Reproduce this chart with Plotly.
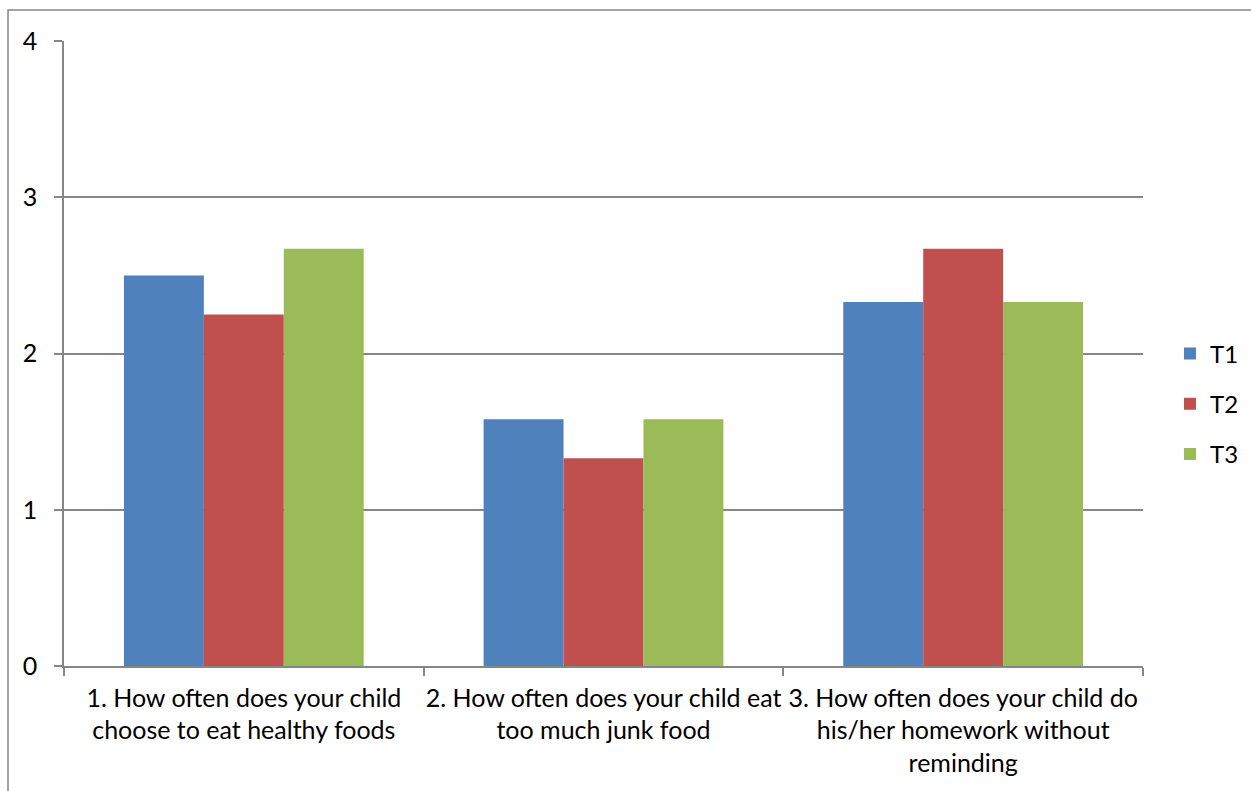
import plotly.graph_objects as go

categories = [
    "1. How often does your child<br>choose to eat healthy foods",
    "2. How often does your child eat<br>too much junk food",
    "3. How often does your child do<br>his/her homework without<br>reminding",
]
series_names = ["T1", "T2", "T3"]
t1_values = [2.5, 1.58, 2.33]
t2_values = [2.25, 1.33, 2.67]
t3_values = [2.67, 1.58, 2.33]
y_ticks = [0, 1, 2, 3, 4]

colors = ["#4F81BD", "#C0504D", "#9BBB59"]
FONT = "Lato"
FS = 25

fig = go.Figure()
for name, vals, col in zip(series_names, [t1_values, t2_values, t3_values], colors):
    fig.add_trace(go.Bar(x=categories, y=vals, name=name, legendgroup=name,
                         marker=dict(color=col, line=dict(width=0))))

fig.update_layout(
    width=1251, height=791,
    margin=dict(l=64, r=108, t=41, b=125, autoexpand=False),
    paper_bgcolor="white", plot_bgcolor="white",
    barmode="group", bargap=1/3, bargroupgap=0,
    font=dict(family=FONT, size=FS, color="black"),
    showlegend=True,
    legend=dict(x=1.025, y=(666 - 404) / 625, xanchor="left", yanchor="middle",
                font=dict(size=24), itemwidth=30, tracegroupgap=16,
                traceorder="grouped", bgcolor="rgba(0,0,0,0)"),
    xaxis=dict(
        showline=True, linecolor="#868686", linewidth=1.5,
        ticks="outside", tickson="boundaries", ticklen=8, tickcolor="#868686",
        tickwidth=1.5, showgrid=False, tickangle=0, ticklabelstandoff=9,
        tickfont=dict(family=FONT, size=FS, color="black"),
    ),
    yaxis=dict(
        range=[0, 4], tickvals=y_ticks, showline=True, linecolor="#868686",
        linewidth=1.5, ticks="outside", ticklen=8, tickcolor="#868686", tickwidth=1.5,
        showgrid=True, gridcolor="#868686", gridwidth=1.5, zeroline=False,
        tickfont=dict(family=FONT, size=FS, color="black"), ticklabelstandoff=12,
    ),
    shapes=[
        dict(type="rect", xref="paper", yref="paper",
             x0=(8 - 64) / 1079, x1=1.3, y0=-0.3, y1=(666 - 10) / 625,
             line=dict(color="#868686", width=1.5), fillcolor="rgba(0,0,0,0)", layer="below"),
    ],
)

fig.write_html("out.html")
